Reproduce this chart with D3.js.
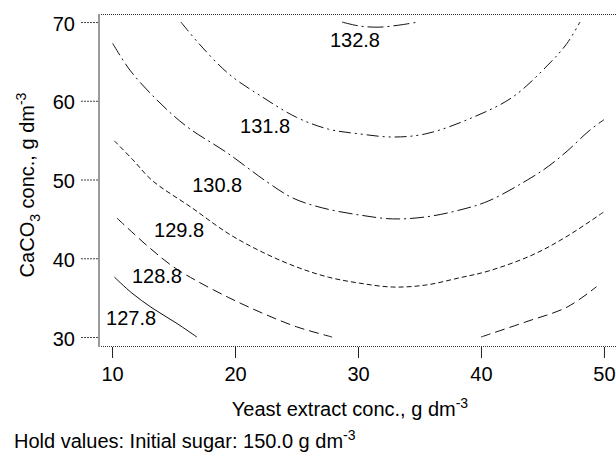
<!DOCTYPE html>
<html>
<head>
<meta charset="utf-8">
<script src="https://cdn.jsdelivr.net/npm/d3@7"></script>
<style>
	body { margin: 0; background: #fff; }
	svg { display: block; font-family: "Liberation Sans", Arial, sans-serif; }
	.axis text { font-size: 20px; fill: #000; }
	.contour-label { font-size: 20px; fill: #000; }
</style>
</head>
<body>
<div id="chart"></div>
<script>

// tick values
let xTicks = [10, 20, 30, 40, 50];
let yTicks = [30, 40, 50, 60, 70];

// contour levels
let levels = [127.8, 128.8, 129.8, 130.8, 131.8, 132.8];

// contour pieces for each level, [yeast extract, CaCO3]
let contour_127_8 = [
	[[10.2, 37.6], [11.6, 35.6], [13.25, 33.7], [15.2, 31.8], [16.9, 30.0]]
];
let contour_128_8 = [
	[[10.4, 45.1], [13.0, 41.4], [15.0, 38.9], [16.8, 37.2], [19.5, 35.0], [22.2, 33.05], [25.0, 31.3], [27.9, 30.0]],
	[[40.0, 30.0], [43.6, 31.9], [47.0, 33.8], [49.4, 36.4]]
];
let contour_129_8 = [
	[[10.2, 54.9], [11.7, 52.5], [13.25, 49.9], [16.5, 46.4], [19.5, 43.1], [22.2, 40.8], [25.0, 38.9], [27.6, 37.6],
	 [30.1, 36.85], [32.8, 36.35], [35.5, 36.6], [38.2, 37.5], [40.65, 38.4], [44.15, 40.4], [46.9, 42.7], [50.0, 45.9]]
];
let contour_130_8 = [
	[[10.05, 67.3], [11.45, 63.9], [13.65, 60.1], [16.1, 56.7], [19.35, 53.4], [22.6, 49.7], [24.7, 47.65], [27.1, 46.4],
	 [30.1, 45.5], [32.8, 45.0], [35.5, 45.25], [38.2, 46.1], [40.65, 47.3], [44.15, 50.3], [45.5, 51.7], [47.0, 53.6],
	 [48.8, 56.2], [50.0, 57.6]]
];
let contour_131_8 = [
	[[15.6, 70.0], [17.1, 67.2], [19.5, 63.4], [22.2, 60.5], [25.0, 57.9], [27.6, 56.4], [30.1, 55.8], [32.8, 55.4],
	 [35.5, 55.8], [39.35, 57.9], [42.6, 60.5], [45.6, 64.8], [47.0, 67.3], [48.05, 70.0]]
];
let contour_132_8 = [
	[[28.7, 70.0], [30.1, 69.5], [31.7, 69.35], [33.3, 69.6], [34.9, 70.0]]
];

// where each level label sits, [yeast extract, CaCO3]
let labelSpots = [
	[11.55, 32.4], [13.65, 37.75], [15.45, 43.6], [18.55, 49.3], [22.45, 56.8], [29.75, 67.7]
];

let contourPieces = [contour_127_8, contour_128_8, contour_129_8, contour_130_8, contour_131_8, contour_132_8];

// line styles per level (solid, long dash, short dash, dash-dot ...)
let dashes = ["none", "10,5", "5,3", "14,4,2,4", "12,4,2,4,2,4", "16,4,2,4"];

let width = 616;
let height = 452;

// plot frame in pixels
let frame = {left: 99, right: 617, top: 14, bottom: 346};

let svg = d3.select("#chart").append("svg")
	.attr("width", width)
	.attr("height", height);

let xScale = d3.scaleLinear()
	.domain([8.94, 51.06])
	.range([frame.left, frame.right]);

let yScale = d3.scaleLinear()
	.domain([28.86, 71.02])
	.range([frame.bottom, frame.top]);

// clip so nothing leaks past the frame
svg.append("clipPath")
	.attr("id", "plot-clip")
	.append("rect")
	.attr("x", frame.left)
	.attr("y", frame.top)
	.attr("width", frame.right - frame.left)
	.attr("height", frame.bottom - frame.top);

// frame lines: dotted top and bottom, grey left spine
svg.append("line")
	.attr("x1", frame.left).attr("x2", frame.right)
	.attr("y1", frame.top + 0.5).attr("y2", frame.top + 0.5)
	.style("stroke", "#333")
	.style("stroke-dasharray", "1,1");

svg.append("line")
	.attr("x1", frame.left).attr("x2", frame.right)
	.attr("y1", frame.bottom + 0.5).attr("y2", frame.bottom + 0.5)
	.style("stroke", "#333")
	.style("stroke-dasharray", "1,1");

svg.append("line")
	.attr("x1", frame.left).attr("x2", frame.left)
	.attr("y1", frame.top).attr("y2", frame.bottom + 1)
	.style("stroke", "#9a9a9a")
	.style("stroke-width", 2);

// axes
let xAxis = d3.axisBottom()
	.scale(xScale)
	.tickValues(xTicks)
	.tickSize(11)
	.tickPadding(9)
	.tickFormat(d3.format("d"));

let yAxis = d3.axisLeft()
	.scale(yScale)
	.tickValues(yTicks)
	.tickSize(17)
	.tickPadding(6)
	.tickFormat(d3.format("d"));

let gx = svg.append("g")
	.attr("class", "axis x-axis")
	.attr("transform", "translate(0," + (frame.bottom + 1) + ")")
	.call(xAxis);
gx.select(".domain").remove();
gx.selectAll(".tick line").style("stroke", "#222");

let gy = svg.append("g")
	.attr("class", "axis y-axis")
	.attr("transform", "translate(" + (frame.left - 1) + ",0)")
	.call(yAxis);
gy.select(".domain").remove();
gy.selectAll(".tick line")
	.style("stroke", "#444")
	.style("stroke-dasharray", "2,1");
gy.selectAll(".tick text").attr("dy", "0.4em");

svg.selectAll(".axis text")
	.style("font-family", "'Liberation Sans', Arial, sans-serif");

// contour lines
let line = d3.line()
	.x(d => xScale(d[0]))
	.y(d => yScale(d[1]))
	.curve(d3.curveCatmullRom.alpha(0.5));

let plot = svg.append("g")
	.attr("clip-path", "url(#plot-clip)");

contourPieces.forEach(function(pieces, i) {
	plot.selectAll(".level-" + i)
		.data(pieces)
		.enter()
		.append("path")
		.attr("class", "contour level-" + i)
		.attr("d", line)
		.style("fill", "none")
		.style("stroke", "#111")
		.style("stroke-width", 1)
		.style("stroke-dasharray", dashes[i]);
});

// level labels
svg.selectAll(".contour-label")
	.data(levels)
	.enter()
	.append("text")
	.attr("class", "contour-label")
	.attr("x", (d, i) => xScale(labelSpots[i][0]))
	.attr("y", (d, i) => yScale(labelSpots[i][1]))
	.attr("text-anchor", "middle")
	.attr("dy", "0.36em")
	.text(d => d.toFixed(1));

// axis titles
let xTitle = svg.append("text")
	.attr("x", 350)
	.attr("y", 416)
	.attr("text-anchor", "middle")
	.style("font-size", "20px");
xTitle.append("tspan").text("Yeast extract conc., g dm");
xTitle.append("tspan").attr("dy", -8).style("font-size", "14px").text("-3");

let yTitle = svg.append("text")
	.attr("transform", "translate(34,185)rotate(-90)")
	.attr("text-anchor", "middle")
	.style("font-size", "20px");
yTitle.append("tspan").text("CaCO");
yTitle.append("tspan").attr("dy", 6).style("font-size", "14px").text("3");
yTitle.append("tspan").attr("dy", -6).text(" conc., g dm");
yTitle.append("tspan").attr("dy", -8).style("font-size", "14px").text("-3");

// hold values note
let note = svg.append("text")
	.attr("x", 14)
	.attr("y", 448)
	.style("font-size", "20px");
note.append("tspan").text("Hold values: Initial sugar: 150.0 g dm");
note.append("tspan").attr("dy", -8).style("font-size", "14px").text("-3");

</script>
</body>
</html>
